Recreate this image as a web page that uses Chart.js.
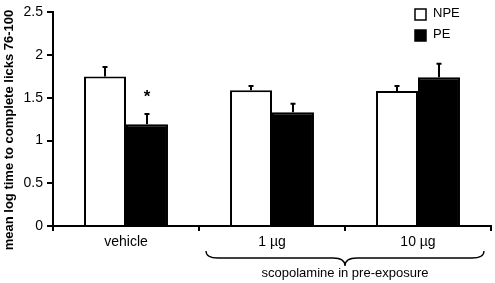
<!DOCTYPE html>
<html>
<head>
<meta charset="utf-8">
<script src="https://cdn.jsdelivr.net/npm/chart.js@4"></script>
<style>
  body { margin: 0; background: #fff; }
</style>
</head>
<body>
<canvas id="licksChart" width="495" height="283"></canvas>
<script>
const categories = ['vehicle', '1 µg', '10 µg'];
const npeMeans = [1.75, 1.59, 1.58];
const npeErrors = [0.11, 0.05, 0.06];
const peMeans = [1.19, 1.33, 1.74];
const peErrors = [0.12, 0.10, 0.16];
const yTitle = 'mean log time to complete licks 76-100';
const groupTitle = 'scopolamine in pre-exposure';

const FONT = '"Liberation Sans", Arial, sans-serif';

// error bars, significance star, legend, y title and the brace under the x axis
const extras = {
  id: 'extras',
  afterDatasetsDraw(chart) {
    const ctx = chart.ctx;
    const y = chart.scales.y;
    const x = chart.scales.x;
    const errs = [npeErrors, peErrors];
    ctx.save();
    ctx.strokeStyle = '#000';
    ctx.lineWidth = 2;
    chart.data.datasets.forEach((ds, i) => {
      chart.getDatasetMeta(i).data.forEach((bar, j) => {
        const top = y.getPixelForValue(ds.data[j] + errs[i][j]);
        ctx.beginPath();
        ctx.moveTo(bar.x, bar.y);
        ctx.lineTo(bar.x, top);
        ctx.moveTo(bar.x - 2.5, top);
        ctx.lineTo(bar.x + 2.5, top);
        ctx.stroke();
      });
    });

    // star over vehicle PE
    const peBar = chart.getDatasetMeta(1).data[0];
    ctx.fillStyle = '#000';
    ctx.font = 'bold 17px ' + FONT;
    ctx.textAlign = 'center';
    ctx.textBaseline = 'middle';
    ctx.fillText('*', peBar.x, y.getPixelForValue(peMeans[0] + peErrors[0]) - 17);

    // legend
    ctx.font = '13px ' + FONT;
    ctx.textAlign = 'left';
    chart.data.datasets.forEach((ds, i) => {
      const by = 9 + i * 21;
      ctx.fillStyle = ds.backgroundColor;
      ctx.fillRect(415, by, 11, 11);
      ctx.lineWidth = 1.5;
      ctx.strokeRect(415, by, 11, 11);
      ctx.fillStyle = '#000';
      ctx.fillText(ds.label, 433, by + 4);
    });

    // y title
    ctx.save();
    ctx.translate(9, 130);
    ctx.rotate(-Math.PI / 2);
    ctx.font = 'bold 13px ' + FONT;
    ctx.textAlign = 'center';
    ctx.fillText(yTitle, 0, 0);
    ctx.restore();

    // brace under 1 µg and 10 µg
    const x0 = 206, x1 = 484, xm = x.getPixelForValue(1.5);
    const bt = 251, bm = 258, bb = 266;
    ctx.lineWidth = 1.3;
    ctx.beginPath();
    ctx.moveTo(x0, bt);
    ctx.quadraticCurveTo(x0, bm, x0 + 12, bm);
    ctx.lineTo(xm - 12, bm);
    ctx.quadraticCurveTo(xm, bm, xm, bb);
    ctx.quadraticCurveTo(xm, bm, xm + 12, bm);
    ctx.lineTo(x1 - 12, bm);
    ctx.quadraticCurveTo(x1, bm, x1, bt);
    ctx.stroke();
    ctx.font = '13px ' + FONT;
    ctx.textAlign = 'center';
    ctx.fillText(groupTitle, xm, 273);
    ctx.restore();
  }
};

new Chart(document.getElementById('licksChart'), {
  type: 'bar',
  data: {
    labels: categories,
    datasets: [
      { label: 'NPE', data: npeMeans, backgroundColor: '#ffffff', borderColor: '#000', borderWidth: 2 },
      { label: 'PE', data: peMeans, backgroundColor: '#000000', borderColor: '#000', borderWidth: 2 }
    ]
  },
  options: {
    responsive: false,
    animation: false,
    layout: { padding: { top: 12, right: 4 } },
    datasets: { bar: { categoryPercentage: 0.575, barPercentage: 1 } },
    plugins: { legend: { display: false }, tooltip: { enabled: false } },
    scales: {
      x: {
        afterFit: s => { s.height = 57; },
        border: { color: '#000', width: 2 },
        grid: { offset: true, drawOnChartArea: false, color: '#000', lineWidth: 2, tickLength: 5 },
        ticks: { color: '#000', font: { family: FONT, size: 14 }, padding: 3 }
      },
      y: {
        min: 0,
        max: 2.5,
        afterFit: s => { s.width = 53; },
        border: { color: '#000', width: 2 },
        grid: { drawOnChartArea: false, color: '#000', lineWidth: 2, tickLength: 6 },
        ticks: {
          stepSize: 0.5,
          color: '#000',
          font: { family: FONT, size: 14 },
          padding: 4,
          callback: v => String(v)
        }
      }
    }
  },
  plugins: [extras]
});
</script>
</body>
</html>
